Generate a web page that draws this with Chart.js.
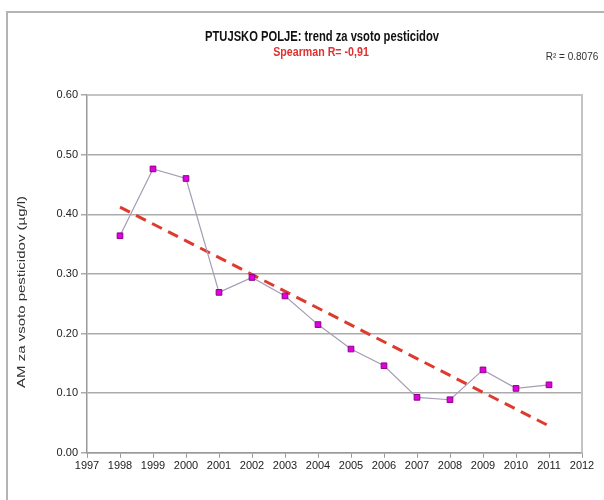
<!DOCTYPE html>
<html>
<head>
<meta charset="utf-8">
<script src="https://cdn.jsdelivr.net/npm/chart.js@4.4.0/dist/chart.umd.min.js"></script>
<style>
  html, body { margin: 0; padding: 0; background: #fff; }
  #wrap { width: 604px; height: 500px; }
</style>
</head>
<body>
<div id="wrap"><canvas id="chart" width="604" height="500"></canvas></div>
<script>
// values
const years = [1998, 1999, 2000, 2001, 2002, 2003, 2004, 2005, 2006, 2007, 2008, 2009, 2010, 2011];
const sumPest = [0.364, 0.476, 0.460, 0.269, 0.294, 0.263, 0.215, 0.174, 0.146, 0.093, 0.089, 0.139, 0.108, 0.114];
const trendYears = [1998, 2011];
const trendVals = [0.412, 0.045];

const titleText = 'PTUJSKO POLJE: trend za vsoto pesticidov';
const subText = 'Spearman R= -0,91';
const r2Text = 'R\u00b2 = 0.8076';
const yTitle = 'AM za vsoto pesticidov (\u00b5g/l)';

const FONT = "'Liberation Sans', Arial, sans-serif";

// squeezed / stretched text, the source image was rescaled unevenly
function drawText(ctx, text, x, y, font, color, sx, sy, rot) {
  ctx.save();
  ctx.font = font;
  ctx.fillStyle = color;
  ctx.textAlign = 'center';
  ctx.textBaseline = 'middle';
  ctx.translate(x, y);
  if (rot) ctx.rotate(rot);
  ctx.scale(sx, sy);
  ctx.fillText(text, 0, 0);
  ctx.restore();
}

const extras = {
  id: 'extras',
  beforeDraw(chart) {
    const ctx = chart.ctx;
    ctx.save();
    ctx.strokeStyle = '#b4b4b4';
    ctx.lineWidth = 2;
    ctx.beginPath();
    ctx.moveTo(7, 500);
    ctx.lineTo(7, 12);
    ctx.lineTo(604, 12);
    ctx.stroke();
    ctx.restore();
  },
  beforeDatasetsDraw(chart) {
    const ctx = chart.ctx, a = chart.chartArea;
    ctx.save();
    ctx.strokeStyle = '#c4c4c4';
    ctx.lineWidth = 2;
    ctx.beginPath();
    ctx.moveTo(a.left, a.top);
    ctx.lineTo(a.right, a.top);
    ctx.lineTo(a.right, a.bottom);
    ctx.stroke();
    ctx.restore();
  },
  afterDraw(chart) {
    const ctx = chart.ctx;
    drawText(ctx, titleText, 322, 37, 'bold 14px ' + FONT, '#111', 0.8, 1);
    drawText(ctx, subText, 321, 52, 'bold 13px ' + FONT, '#e03030', 0.82, 1);
    drawText(ctx, r2Text, 572, 57, '10px ' + FONT, '#333', 1, 1);
    drawText(ctx, yTitle, 22, 292, '10px ' + FONT, '#333', 1.5, 1, -Math.PI / 2);
  }
};

new Chart(document.getElementById('chart'), {
  type: 'scatter',
  data: {
    datasets: [
      {
        label: 'vsota pesticidov',
        data: years.map((y, i) => ({ x: y, y: sumPest[i] })),
        showLine: true,
        borderColor: '#a69cb4',
        borderWidth: 1.2,
        pointStyle: 'rect',
        pointRadius: 4,
        pointBackgroundColor: '#e000e0',
        pointBorderColor: '#8a008a',
        pointBorderWidth: 1
      },
      {
        label: 'trend',
        data: trendYears.map((y, i) => ({ x: y, y: trendVals[i] })),
        showLine: true,
        borderColor: '#e03a2e',
        borderWidth: 3,
        borderDash: [11, 7],
        pointRadius: 0
      }
    ]
  },
  options: {
    responsive: false,
    animation: false,
    layout: { padding: { left: 0, right: 22, top: 95, bottom: 25 } },
    plugins: {
      legend: { display: false },
      tooltip: { enabled: false }
    },
    scales: {
      x: {
        type: 'linear',
        min: 1997,
        max: 2012,
        ticks: {
          stepSize: 1,
          color: '#222',
          font: { family: FONT, size: 11 },
          padding: 2,
          maxRotation: 0,
          autoSkip: false,
          callback: v => String(v)
        },
        grid: { drawOnChartArea: false, color: '#999', tickLength: 5 },
        border: { color: '#999', width: 1.5 }
      },
      y: {
        min: 0,
        max: 0.6,
        afterFit(scale) { scale.width = 87; },
        ticks: {
          stepSize: 0.1,
          color: '#222',
          font: { family: FONT, size: 11 },
          padding: 3,
          callback: v => v.toFixed(2)
        },
        grid: { color: '#ababab', lineWidth: 1.5, tickLength: 6 },
        border: { color: '#999', width: 1.5 }
      }
    }
  },
  plugins: [extras]
});
</script>
</body>
</html>
